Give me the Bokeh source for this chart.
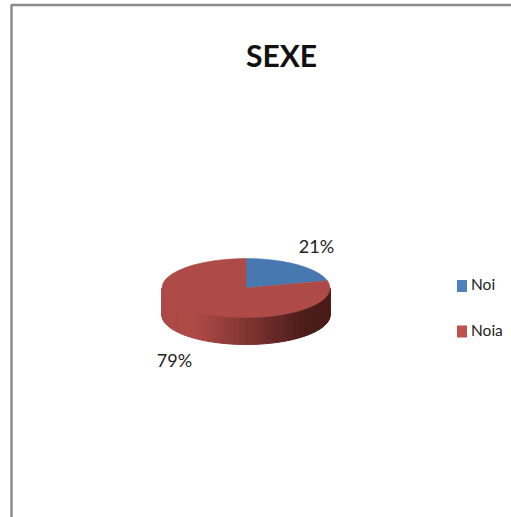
import numpy as np
from bokeh.plotting import figure
from bokeh.embed import file_html
from bokeh.resources import INLINE
from bokeh.core.properties import value

title = "SEXE"
categories = ["Noi", "Noia"]
shares = [21, 79]
top_colors = ["#4878B0", "#AE4A47"]
legend_colors = ["#4F81BD", "#C0504D"]

W, H = 511, 517
cx, cy, rx, ry, depth = 245.5, 287.5, 84, 29.5, 27

p = figure(width=W, height=H, x_range=(0, W), y_range=(H, 0), toolbar_location=None,
           output_backend="svg", min_border=0, outline_line_color=None)
p.axis.visible = False
p.grid.visible = False
p.background_fill_color = "white"
p.border_fill_color = "white"

# frame
p.line([11, 11, W], [H, 4.5, 4.5], line_color="#8C8C8C", line_width=2.5)

def ell(a):
    return cx + rx * np.sin(a), cy - ry * np.cos(a)

# side wall: strips following the visible lower half of the rim
edges = np.linspace(np.pi / 2, 3 * np.pi / 2, 121)
xs, ys, cols = [], [], []
def side_color(x):
    t = np.clip((x - 195) / (305 - 195), 0, 1)
    a = np.array([0xAE, 0x4A, 0x47]); b = np.array([0x4A, 0x1C, 0x1A])
    c = (a + (b - a) * t).astype(int)
    return "#%02X%02X%02X" % tuple(c)
for a0, a1 in zip(edges[:-1], edges[1:]):
    x0, y0 = ell(a0); x1, y1 = ell(a1)
    xs.append([x0, x1, x1, x0]); ys.append([y0, y1, y1 + depth, y0 + depth])
    cols.append(side_color((x0 + x1) / 2))
p.patches(xs, ys, fill_color=cols, line_color=cols, line_width=1)

# top slices, clockwise from 12 o'clock
fr = np.cumsum([0] + shares) / sum(shares) * 2 * np.pi
for i, col in enumerate(top_colors):
    a = np.linspace(fr[i], fr[i + 1], 90)
    ex, ey = ell(a)
    p.patch(np.r_[cx, ex], np.r_[cy, ey], fill_color=col, line_color=col, line_width=0.5)

# text
font = value("Lato")
p.text([281], [54], text=[title], text_font=font, text_font_style="bold", text_font_size="30px",
       text_align="center", text_baseline="middle", text_color="#111111")
label_x = [316, 174]
label_y = [245.5, 359]
p.text(label_x, label_y, text=[f"{s}%" for s in shares], text_font=font, text_font_size="18px",
       text_align="center", text_baseline="middle", text_color="#222222")

# legend
leg_y = [285.5, 331]
p.rect([461.5, 461.5], leg_y, width=10, height=12, fill_color=legend_colors, line_color=None)
p.text([470.5, 470.5], [y - 2 for y in leg_y], text=categories, text_font=font, text_font_size="15.5px",
       text_align="left", text_baseline="middle", text_color="#222222")

open("out.html", "w").write(file_html(p, INLINE))
